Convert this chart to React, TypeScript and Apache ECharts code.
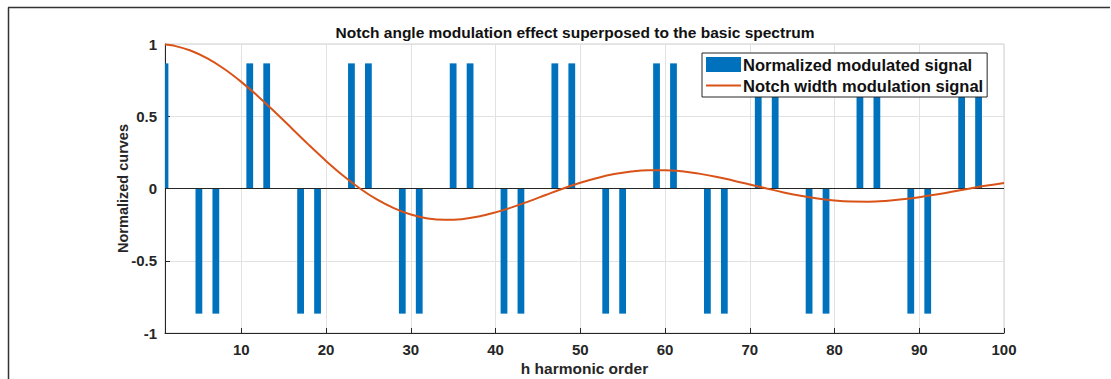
import React, { useEffect, useRef } from "react";
import * as echarts from "echarts";

const harmonics = [1, 5, 7, 11, 13, 17, 19, 23, 25, 29, 31, 35, 37, 41, 43, 47, 49, 53, 55, 59, 61, 65, 67, 71, 73, 77, 79, 83, 85, 89, 91, 95, 97];
const barValues = [0.866, -0.866, -0.866, 0.866, 0.866, -0.866, -0.866, 0.866, 0.866, -0.866, -0.866, 0.866, 0.866, -0.866, -0.866, 0.866, 0.866, -0.866, -0.866, 0.866, 0.866, -0.866, -0.866, 0.866, 0.866, -0.866, -0.866, 0.866, 0.866, -0.866, -0.866, 0.866, 0.866];

const curveX = [1, 2, 4, 6, 8, 10, 12, 14, 16, 18, 20, 22, 24, 26, 28, 30, 32, 34, 36, 38, 40, 42, 44, 46, 48, 50, 52, 54, 56, 58, 60, 62, 64, 66, 68, 70, 72, 74, 76, 78, 80, 82, 84, 86, 88, 90, 92, 94, 96, 98, 100];
const curveY = [0.997, 0.989, 0.955, 0.9, 0.827, 0.738, 0.637, 0.527, 0.414, 0.3, 0.191, 0.09, 0.0, -0.076, -0.136, -0.18, -0.207, -0.217, -0.212, -0.194, -0.165, -0.129, -0.087, -0.043, 0.0, 0.04, 0.073, 0.1, 0.118, 0.127, 0.127, 0.119, 0.103, 0.082, 0.056, 0.028, 0.0, -0.027, -0.05, -0.069, -0.083, -0.09, -0.091, -0.086, -0.075, -0.06, -0.042, -0.021, 0.0, 0.02, 0.038];

const xTicks = [10, 20, 30, 40, 50, 60, 70, 80, 90, 100];
const barWidthUnits = 0.8;

const titleText = "Notch angle modulation effect superposed to the basic spectrum";
const barName = "Normalized modulated signal";
const lineName = "Notch width modulation signal";
const xName = "h harmonic order";
const yName = "Normalized curves";

const FONT = "'Liberation Sans', Arial, Helvetica, sans-serif";
const AX = "#262626";
const BLUE = "#0072BD";
const ORANGE = "#D95319";
const GRID = "#e2e2e2";

export default function App() {
  const ref = useRef<HTMLDivElement>(null);
  useEffect(() => {
    if (!ref.current) return;
    const chart = echarts.init(ref.current, undefined, { renderer: "svg" });
    const option: any = {
      animation: false,
      backgroundColor: "#ffffff",
      textStyle: { fontFamily: FONT },
      title: {
        text: titleText,
        left: 575,
        top: 24,
        textAlign: "center",
        padding: 0,
        textStyle: { fontFamily: FONT, fontSize: 15.5, fontWeight: "bold", color: "#111" },
      },
      graphic: [
        { type: "line", shape: { x1: 8, y1: 7.5, x2: 1110, y2: 7.5 }, style: { stroke: "#333", lineWidth: 1.5 }, silent: true, z: 100 },
        { type: "line", shape: { x1: 8.5, y1: 7.5, x2: 8.5, y2: 379 }, style: { stroke: "#333", lineWidth: 1.5 }, silent: true, z: 100 },
      ],
      legend: {
        orient: "vertical",
        left: 702,
        top: 53,
        padding: [3, 4, 3, 4],
        itemGap: 4,
        itemWidth: 35,
        itemHeight: 15,
        symbolKeepAspect: true,
        borderColor: AX,
        borderWidth: 1,
        backgroundColor: "#ffffff",
        textStyle: { fontFamily: FONT, fontSize: 16.5, fontWeight: "bold", color: "#111", padding: [0, 0, 0, -3] },
        data: [
          { name: barName, icon: "rect", itemStyle: { color: BLUE } },
          { name: lineName, icon: "path://M0,0L35,0L35,2L0,2Z", itemStyle: { color: ORANGE } },
        ],
      },
      grid: {
        left: 165,
        top: 44,
        width: 839,
        height: 289,
        show: true,
        borderColor: "#cfcfcf",
        borderWidth: 1,
        containLabel: false,
        outerBoundsMode: "none",
      },
      xAxis: {
        type: "value",
        min: 1,
        max: 100,
        name: xName,
        nameLocation: "middle",
        nameGap: 27,
        nameMoveOverlap: false,
        nameTextStyle: { fontFamily: FONT, fontSize: 15.5, fontWeight: "bold", color: AX },
        axisLine: { show: true, onZero: false, lineStyle: { color: AX, width: 1 } },
        axisTick: { show: true, inside: true, length: 5, customValues: xTicks, lineStyle: { color: AX } },
        axisLabel: { customValues: xTicks, margin: 9, fontFamily: FONT, fontSize: 15, fontWeight: "bold", color: AX },
        splitLine: { show: false },
      },
      yAxis: {
        type: "value",
        min: -1,
        max: 1,
        interval: 0.5,
        name: yName,
        nameLocation: "middle",
        nameGap: 35,
        nameMoveOverlap: false,
        nameTextStyle: { fontFamily: FONT, fontSize: 14.5, fontWeight: "bold", color: AX },
        axisLine: { show: true, onZero: false, lineStyle: { color: AX, width: 1 } },
        axisTick: { show: true, inside: true, length: 5, lineStyle: { color: AX } },
        axisLabel: { margin: 8, fontFamily: FONT, fontSize: 15, fontWeight: "bold", color: AX },
        splitLine: { show: true, lineStyle: { color: GRID, width: 1 } },
      },
      series: [
        {
          name: "grid-lines",
          type: "line",
          data: [],
          z: 0,
          silent: true,
          markLine: {
            z: 0,
            silent: true,
            symbol: "none",
            label: { show: false },
            lineStyle: { color: GRID, type: "solid", width: 1 },
            data: xTicks.map((v) => ({ xAxis: v })),
          },
        },
        {
          name: barName,
          type: "custom",
          itemStyle: { color: BLUE },
          encode: { x: 0, y: 1 },
          data: harmonics.map((h, i) => [h, barValues[i]]),
          renderItem: (params: any, api: any) => {
            const x = api.value(0);
            const y = api.value(1);
            const top = api.coord([x, y]);
            const base = api.coord([x, 0]);
            const w = api.size([barWidthUnits, 0])[0];
            const cs = params.coordSys;
            const shape = echarts.graphic.clipRectByRect(
              { x: top[0] - w / 2, y: Math.min(top[1], base[1]), width: w, height: Math.abs(base[1] - top[1]) },
              { x: cs.x, y: cs.y, width: cs.width, height: cs.height }
            );
            if (!shape) return null;
            return { type: "rect", shape, style: { fill: BLUE } };
          },
          z: 2,
        },
        {
          name: "zero-line",
          type: "line",
          data: [],
          z: 2,
          silent: true,
          markLine: {
            z: 3,
            silent: true,
            symbol: "none",
            label: { show: false },
            lineStyle: { color: AX, type: "solid", width: 1 },
            data: [{ yAxis: 0 }],
          },
        },
        {
          name: lineName,
          type: "line",
          symbol: "none",
          smooth: 0.4,
          clip: true,
          lineStyle: { color: ORANGE, width: 2 },
          itemStyle: { color: ORANGE },
          data: curveX.map((x, i) => [x, curveY[i]]),
          z: 4,
        },
      ],
    };
    chart.setOption(option);
    return () => chart.dispose();
  }, []);
  return (
    <div
      ref={ref}
      style={{ position: "absolute", left: 0, top: 0, width: 1111, height: 379 }}
    />
  );
}
